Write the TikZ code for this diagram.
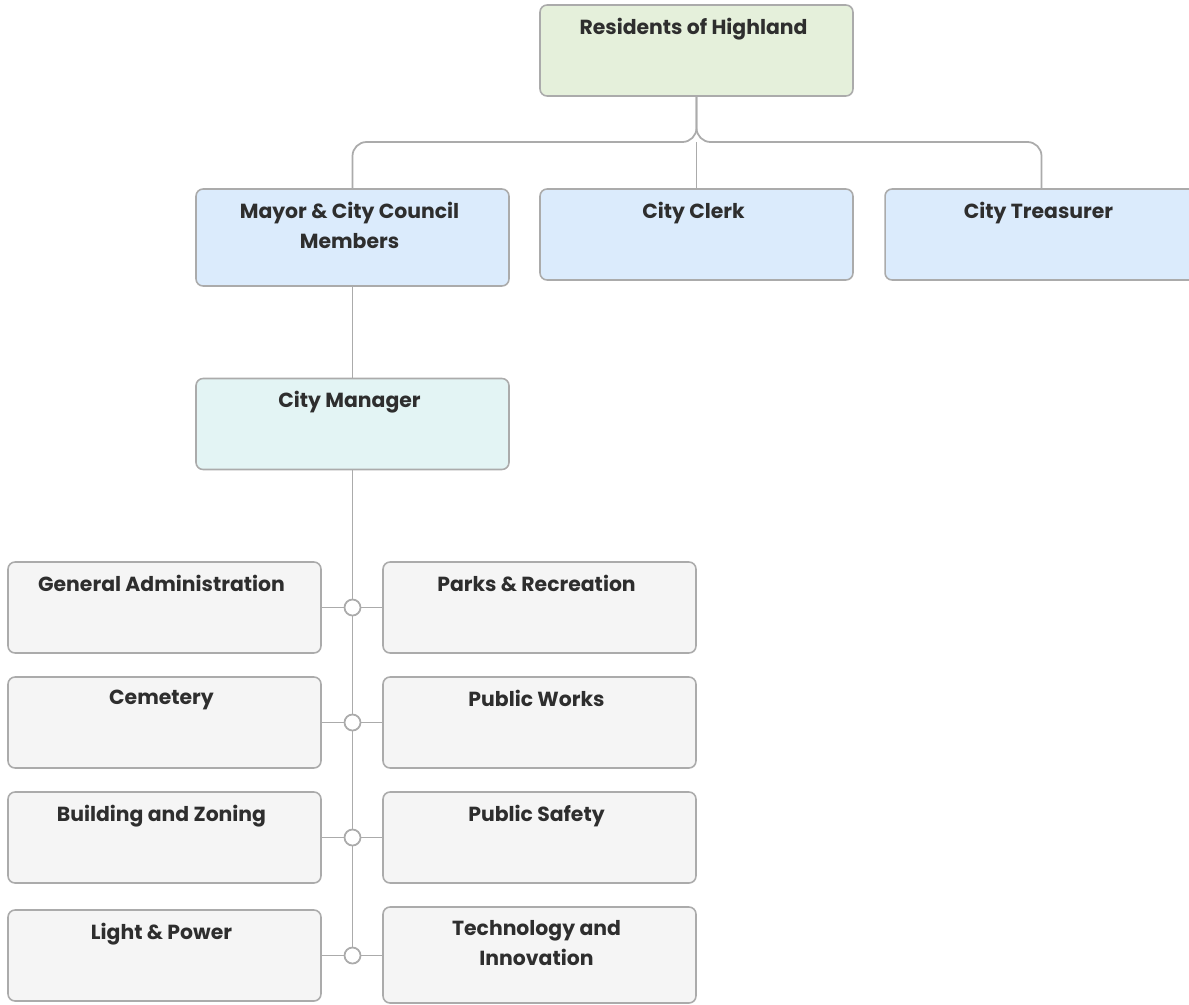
\documentclass[tikz,border=0pt]{standalone}
\usepackage{fontspec}
\setmainfont{Poppins}
\usetikzlibrary{positioning}

\definecolor{edgegray}{HTML}{ABABAB}
\definecolor{txtgray}{HTML}{2E2E2E}
\definecolor{resgreen}{HTML}{E5F0DB}
\definecolor{offblue}{HTML}{DBEBFC}
\definecolor{mgrteal}{HTML}{E3F4F4}
\definecolor{deptgray}{HTML}{F5F5F5}

\tikzset{
  box/.style={rectangle, rounded corners=4pt, draw=edgegray, line width=0.9pt,
    minimum width=6.26cm, minimum height=1.82cm, inner sep=0pt},
  title/.style={anchor=north, yshift=-0.27cm, xshift=-0.06cm, inner sep=0pt, align=center,
    text=txtgray, font=\fontsize{11.6pt}{17pt}\selectfont\bfseries},
  conn/.style={draw=edgegray, line width=1pt},
  joint/.style={circle, draw=edgegray, fill=white, line width=1pt,
    minimum size=0.32cm, inner sep=0pt}
}

\begin{document}
\begin{tikzpicture}[x=0.02cm, y=-0.02cm]
  \clip (0,0) rectangle (1189,1004);
  \fill[white] (0,0) rectangle (1189,1004);

  % top level
  \node[box, fill=resgreen, label={[title]north:Residents of Highland}] (res) at (696.5,50.5) {};

  % officers
  \node[box, fill=offblue, minimum height=1.94cm, label={[title]north:Mayor \& City Council\\Members}] (mayor) at (352.5,237.5) {};
  \node[box, fill=offblue, label={[title]north:City Clerk}] (clerk) at (696.5,234.5) {};
  \node[box, fill=offblue, label={[title]north:City Treasurer}] (treas) at (1041.5,234.5) {};

  \node[box, fill=mgrteal, label={[title]north:City Manager}] (mgr) at (352.5,424) {};

  % departments
  \node[box, fill=deptgray, label={[title]north:General Administration}] (genadm) at (164.5,607.5) {};
  \node[box, fill=deptgray, label={[title]north:Parks \& Recreation}] (parks) at (539.5,607.5) {};
  \node[box, fill=deptgray, label={[title]north:Cemetery}] (cemetery) at (164.5,722.5) {};
  \node[box, fill=deptgray, label={[title]north:Public Works}] (works) at (539.5,722.5) {};
  \node[box, fill=deptgray, label={[title]north:Building and Zoning}] (building) at (164.5,837.5) {};
  \node[box, fill=deptgray, label={[title]north:Public Safety}] (safety) at (539.5,837.5) {};
  \node[box, fill=deptgray, label={[title]north:Light \& Power}] (power) at (164.5,955.5) {};
  \node[box, fill=deptgray, minimum height=1.92cm, label={[title]north:Technology and\\Innovation}] (tech) at (539.5,955) {};

  % links
  \coordinate (split) at (696.5,142);
  \draw[conn, rounded corners=8pt] (res.south) -- (split) -| (mayor.north);
  \draw[conn, rounded corners=8pt] (res.south) -- (split) -| (treas.north);
  \draw[conn] (split) -- (clerk.north);
  \draw[conn] (mayor.south) -- (mgr.south |- mgr.north);

  \node[joint] (j1) at (352.5,607.5) {};
  \node[joint] (j2) at (352.5,722.5) {};
  \node[joint] (j3) at (352.5,837.5) {};
  \node[joint] (j4) at (352.5,955.5) {};

  \draw[conn] (mgr.south) -- (j1.north);
  \draw[conn] (j1.south) -- (j2.north);
  \draw[conn] (j2.south) -- (j3.north);
  \draw[conn] (j3.south) -- (j4.north);

  \foreach \l/\j/\r in {genadm/j1/parks, cemetery/j2/works, building/j3/safety, power/j4/tech}
    \draw[conn] (\l.east) -- (\j.west) (\j.east) -- (\r.west |- \j.east);
\end{tikzpicture}
\end{document}
